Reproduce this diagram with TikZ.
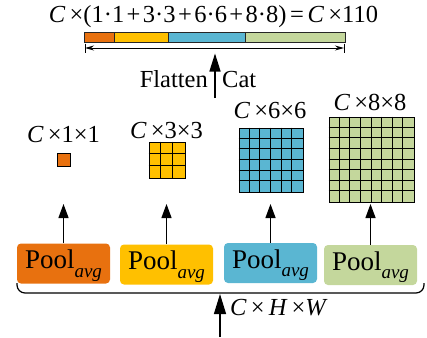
\documentclass[tikz,border=0pt]{standalone}
\usepackage{fontspec}
\setmainfont{Liberation Serif}
\usetikzlibrary{arrows.meta}
\definecolor{cOrange}{HTML}{E8710F}
\definecolor{cYellow}{HTML}{FFC000}
\definecolor{cBlue}{HTML}{5AB6D2}
\definecolor{cGreen}{HTML}{C4D79C}
\tikzset{
  lbl/.style={font=\fontsize{24.5}{26}\selectfont, inner sep=0pt, anchor=base},
  poolbox/.style={rounded corners=4pt, minimum width=93pt, minimum height=40pt, inner sep=0pt,
    text height=18pt, text depth=7.4pt, font=\fontsize{27}{28}\selectfont},
  gridbox/.style={draw=black, line width=1pt, inner sep=0pt, anchor=north west},
  gridline/.style={line width=1pt},
  seg/.style={draw=black!85, line width=0.9pt, inner sep=0pt, minimum height=10pt},
  bigarrow/.style={line width=1.3pt, -{Triangle[length=14pt,width=10pt]}},
}
\newcommand{\plussp}{\hspace{0.1em}+\hspace{0.1em}}
\newcommand{\poolavg}{Pool{\fontsize{19}{20}\selectfont\raisebox{-8.4pt}{\textit{avg}}}}
% square grid of n x n cells with its top left corner at (x0,y0);
% the cell lines are snapped to pixel centres
\newcommand{\squaregrid}[6]{% name, x0, y0, n, size, colour
  \node[gridbox, fill=#6, minimum size=#5pt] (#1) at (#2,#3) {};
  \foreach \k in {1,...,\numexpr#4-1\relax} {
    \pgfmathsetmacro\gx{round(#2+\k*#5/#4-0.5)+0.5}
    \pgfmathsetmacro\gy{round(#3+\k*#5/#4-0.5)+0.5}
    \draw[gridline] (\gx,#3) -- (\gx,#3+#5);
    \draw[gridline] (#2,\gy) -- (#2+#5,\gy);
  }
}
\begin{document}
\begin{tikzpicture}[x=1pt,y=-1pt]
\useasboundingbox (0,0) rectangle (427,337);

% concatenated feature vector
\node[lbl] (formula) at (213.5,22.5) {\textit{C}\,×(1·1\plussp 3·3\plussp 6·6\plussp 8·8)\hspace{0.15em}=\hspace{0.15em}\textit{C}\,×110};
\node[seg, fill=cOrange, minimum width=30pt]  (s1) at (99,37) {};
\node[seg, fill=cYellow, minimum width=54pt]  (s2) at (141,37) {};
\node[seg, fill=cBlue,   minimum width=77pt]  (s3) at (206.5,37) {};
\node[seg, fill=cGreen,  minimum width=100pt] (s4) at (295,37) {};
\coordinate (dl) at (85,48);
\coordinate (dr) at (344,48);
\draw[line width=0.8pt] (85,43.5) -- (85,53);
\draw[line width=0.8pt] (344,43.5) -- (344,53);
\draw[line width=1pt, {Stealth[length=9pt,width=5pt]}-{Stealth[length=9pt,width=5pt]}] (dl) -- (dr);

% flatten and concatenate
\coordinate (fcbot) at (215,98);
\coordinate (fctop) at (215,53.5);
\draw[line width=1.3pt, -{Triangle[length=18pt,width=11pt]}] (fcbot) -- (fctop);
\node[lbl, anchor=base east] (flatten) at (208,87.3) {Flatten};
\node[lbl, anchor=base west] (cat) at (222,87.3) {Cat};

% pooled feature maps
\node[gridbox, fill=cOrange, minimum width=13pt, minimum height=13pt] (g1) at (56.5,152.5) {};
\squaregrid{g2}{148.5}{141.5}{3}{36}{cYellow}
\squaregrid{g3}{238.5}{127.5}{6}{64}{cBlue}
\squaregrid{g4}{328.5}{116.5}{8}{85}{cGreen}

\node[lbl] (l1) at (63.5,142.7) {\textit{C}\,×1×1};
\node[lbl] (l2) at (166.5,138.3) {\textit{C}\,×3×3};
\node[lbl] (l3) at (270,118.5) {\textit{C}\,×6×6};
\node[lbl] (l4) at (370,110.5) {\textit{C}\,×8×8};

% pooling branches
\node[poolbox, fill=cOrange] (p1) at (63.5,263.5) {\poolavg};
\node[poolbox, fill=cYellow] (p2) at (166.5,264.5) {\poolavg};
\node[poolbox, fill=cBlue]   (p3) at (270.5,263) {\poolavg};
\node[poolbox, fill=cGreen]  (p4) at (370.5,265) {\poolavg};

\coordinate (t1) at (63.5,204);
\coordinate (t2) at (166.5,204);
\coordinate (t3) at (270.5,204);
\coordinate (t4) at (370.5,204);
\draw[bigarrow] (p1.north) -- (t1);
\draw[bigarrow] (p2.north) -- (t2);
\draw[bigarrow] (p3.north) -- (t3);
\draw[bigarrow] (p4.north) -- (t4);

% input feeding all branches
\coordinate (bl) at (17,283);
\coordinate (br) at (424,283);
\draw[line width=1.2pt, rounded corners=8pt] (bl) -- (17,293) -- (424,293) -- (br);
\coordinate (inbot) at (220,337);
\coordinate (intop) at (220,294);
\draw[line width=1.3pt, -{Triangle[length=20pt,width=12pt]}] (inbot) -- (intop);
\node[lbl, anchor=base west] (input) at (230,315.7) {\textit{C}\,×\,\textit{H}\,×\textit{W}};
\end{tikzpicture}
\end{document}
